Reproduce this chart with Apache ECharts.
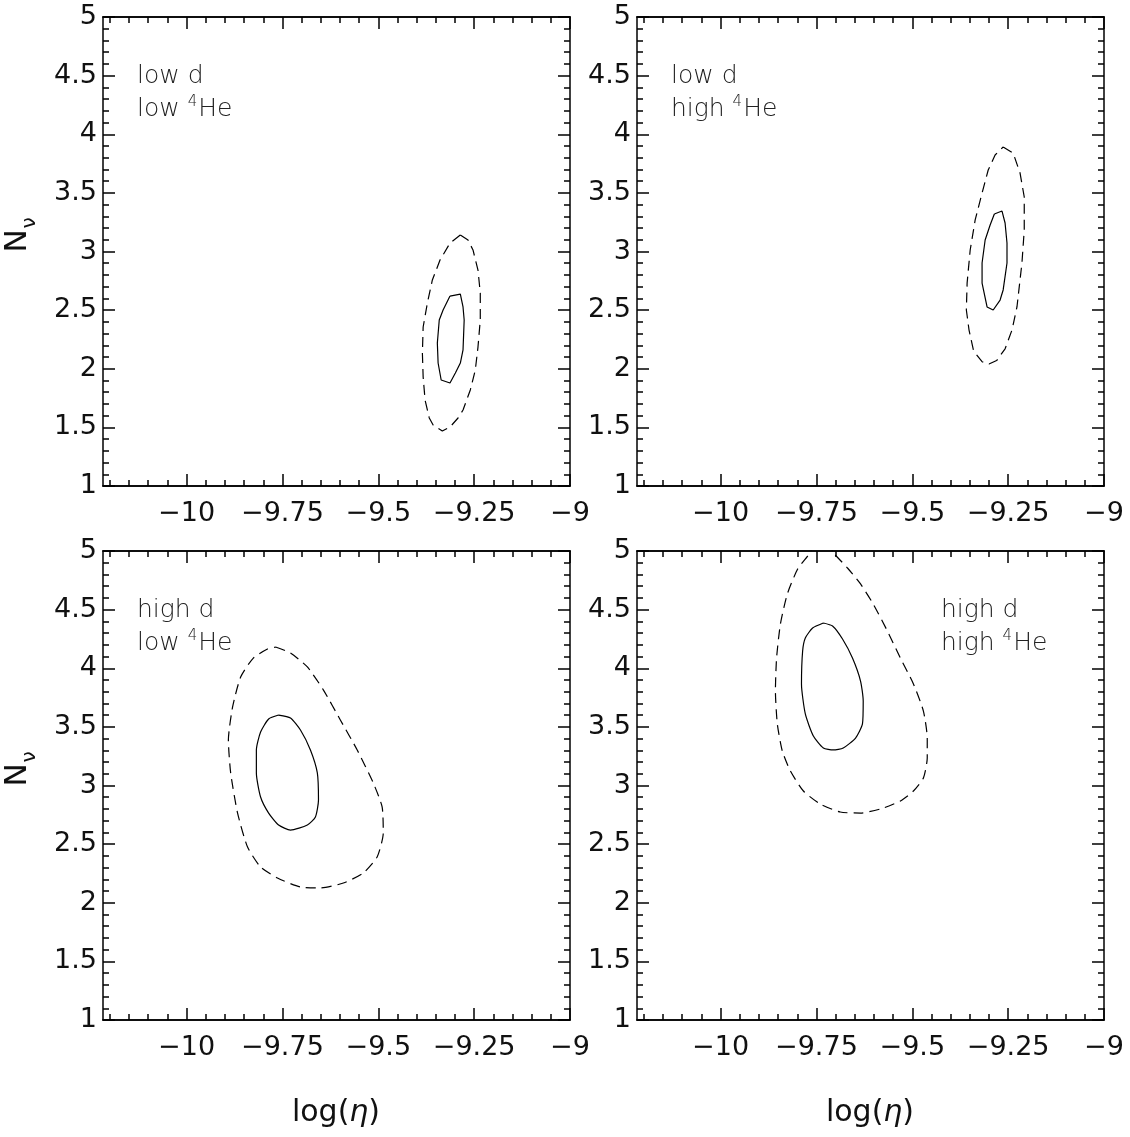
<!DOCTYPE html>
<html><head><meta charset="utf-8">
<script src="https://cdn.jsdelivr.net/npm/echarts@6/dist/echarts.min.js"></script>
<style>html,body{margin:0;padding:0;background:#fff}#c{width:1130px;height:1137px}</style>
</head><body><div id="c"></div>
<script>
// ---- data ----
const X_MIN = -10.218, X_MAX = -9;
const Y_MIN = 1, Y_MAX = 5;
const xTickValues = [-10, -9.75, -9.5, -9.25, -9];
const yTickInterval = 0.5;

const panelLine1 = ['low d', 'low d', 'high d', 'high d'];
const panelLine2 = ['low ', 'high ', 'low ', 'high '];

// top-left: low d, low 4He
const tlOuter = [[-9.286,3.141],[-9.266,3.098],[-9.253,3.013],[-9.240,2.842],[-9.234,2.646],[-9.234,2.416],[-9.240,2.185],[-9.247,1.989],[-9.260,1.819],[-9.279,1.648],[-9.292,1.580],[-9.313,1.503],[-9.333,1.469],[-9.357,1.520],[-9.367,1.580],[-9.378,1.733],[-9.383,1.930],[-9.385,2.134],[-9.383,2.356],[-9.372,2.561],[-9.359,2.757],[-9.339,2.927],[-9.313,3.072],[-9.286,3.141]];
const tlInner = [[-9.313,2.620],[-9.286,2.637],[-9.279,2.527],[-9.276,2.416],[-9.279,2.160],[-9.286,2.049],[-9.299,1.964],[-9.313,1.878],[-9.336,1.904],[-9.344,2.049],[-9.346,2.220],[-9.341,2.416],[-9.331,2.501],[-9.313,2.620]];
// top-right: low d, high 4He
const trOuter = [[-9.263,3.891],[-9.237,3.840],[-9.219,3.670],[-9.208,3.465],[-9.208,3.183],[-9.214,2.902],[-9.227,2.527],[-9.240,2.330],[-9.258,2.170],[-9.280,2.070],[-9.300,2.040],[-9.318,2.060],[-9.340,2.150],[-9.352,2.330],[-9.359,2.501],[-9.357,2.731],[-9.349,3.013],[-9.336,3.269],[-9.318,3.499],[-9.302,3.695],[-9.284,3.823],[-9.263,3.891]];
const trInner = [[-9.286,3.320],[-9.266,3.345],[-9.258,3.243],[-9.253,3.072],[-9.253,2.902],[-9.263,2.672],[-9.271,2.586],[-9.289,2.501],[-9.305,2.527],[-9.318,2.731],[-9.318,2.902],[-9.310,3.098],[-9.297,3.226],[-9.286,3.320]];
// bottom-left: high d, low 4He
const blOuter = [[-9.768,4.181],[-9.729,4.130],[-9.685,4.011],[-9.643,3.814],[-9.599,3.559],[-9.555,3.303],[-9.513,3.021],[-9.490,2.817],[-9.487,2.595],[-9.503,2.390],[-9.539,2.254],[-9.591,2.168],[-9.651,2.126],[-9.703,2.134],[-9.763,2.211],[-9.807,2.305],[-9.841,2.475],[-9.867,2.765],[-9.885,3.107],[-9.891,3.388],[-9.880,3.670],[-9.859,3.925],[-9.826,4.087],[-9.789,4.164],[-9.768,4.181]];
const blInner = [[-9.760,3.601],[-9.729,3.576],[-9.703,3.473],[-9.677,3.303],[-9.659,3.107],[-9.656,2.876],[-9.664,2.731],[-9.685,2.663],[-9.729,2.620],[-9.760,2.663],[-9.786,2.765],[-9.807,2.902],[-9.818,3.107],[-9.818,3.303],[-9.807,3.456],[-9.786,3.567],[-9.760,3.601]];
// bottom-right: high d, high 4He
const brOuter = [[-9.701,4.966],[-9.669,4.855],[-9.635,4.719],[-9.602,4.548],[-9.565,4.318],[-9.531,4.087],[-9.497,3.866],[-9.471,3.635],[-9.461,3.405],[-9.461,3.235],[-9.471,3.064],[-9.497,2.953],[-9.531,2.868],[-9.583,2.800],[-9.635,2.765],[-9.688,2.774],[-9.740,2.842],[-9.784,2.953],[-9.818,3.124],[-9.839,3.294],[-9.852,3.525],[-9.857,3.806],[-9.854,4.087],[-9.844,4.377],[-9.826,4.633],[-9.799,4.846],[-9.773,4.957],[-9.755,5.04],[-9.720,5.04],[-9.701,4.966]];
const brInner = [[-9.732,4.386],[-9.708,4.360],[-9.682,4.249],[-9.656,4.087],[-9.635,3.891],[-9.628,3.721],[-9.630,3.525],[-9.648,3.405],[-9.680,3.320],[-9.706,3.303],[-9.732,3.320],[-9.758,3.422],[-9.779,3.610],[-9.789,3.866],[-9.786,4.147],[-9.779,4.258],[-9.760,4.343],[-9.732,4.386]];

const outers = [tlOuter, trOuter, blOuter, brOuter];
const inners = [tlInner, trInner, blInner, brInner];

// ---- layout ----
const FONT = "'DejaVu Sans', sans-serif";
const FW = 'normal';
const FWL = 200;
const gridPos = [[103,17],[637,17],[103,551],[637,551]];
const GW = 467, GH = 469;
const xMinor = [];
for (let i = 0; i <= 24; i++) {
  const v = Math.round((-10.2 + i*0.05)*1000)/1000;
  if (!xTickValues.some(t => Math.abs(t - v) < 1e-6)) xMinor.push(v);
}
const fmt = v => (v < 0 ? '\u2212' : '') + String(Math.abs(Math.round(v*100)/100));
const lineS = {color:'#000', width:1.5};

const grid = gridPos.map(([l,t]) => ({left:l, top:t, width:GW, height:GH, outerBoundsMode:'none'}));
const xAxis = [], yAxis = [], series = [];
gridPos.forEach((p, g) => {
  const base = {type:'value', gridIndex:g, min:X_MIN, max:X_MAX, splitLine:{show:false},
    axisLine:{show:true, onZero:false, lineStyle:lineS}};
  const lab = {show:true, customValues:xTickValues, formatter:fmt, fontSize:27, color:'#111',
    margin:14, fontFamily:FONT, fontWeight:FW};
  xAxis.push({...base, position:'bottom', axisTick:{show:true, inside:true, length:12, customValues:xTickValues, lineStyle:lineS}, axisLabel:lab});
  xAxis.push({...base, position:'bottom', axisTick:{show:true, inside:true, length:6, customValues:xMinor, lineStyle:lineS}, axisLabel:{show:false}});
  xAxis.push({...base, position:'top', axisTick:{show:true, inside:true, length:12, customValues:xTickValues, lineStyle:lineS}, axisLabel:{show:false}});
  xAxis.push({...base, position:'top', axisTick:{show:true, inside:true, length:6, customValues:xMinor, lineStyle:lineS}, axisLabel:{show:false}});
  const ybase = {type:'value', gridIndex:g, min:Y_MIN, max:Y_MAX, interval:yTickInterval,
    splitLine:{show:false}, minorSplitLine:{show:false},
    axisLine:{show:true, onZero:false, lineStyle:lineS},
    axisTick:{show:true, inside:true, length:12, lineStyle:lineS},
    minorTick:{show:true, splitNumber:5, length:6, lineStyle:lineS}};
  yAxis.push({...ybase, position:'left', axisLabel:{show:true, fontSize:27, color:'#111', margin:6, fontFamily:FONT, fontWeight:FW}});
  yAxis.push({...ybase, position:'right', axisLabel:{show:false}});
  const sm = g >= 2 ? 0.2 : false;
  series.push({type:'line', xAxisIndex:4*g, yAxisIndex:2*g, data:outers[g], showSymbol:false, symbol:'none', smooth:sm, clip:true,
    lineStyle:{color:'#000', width:1.2, type:[10,6]}, silent:true, animation:false});
  series.push({type:'line', xAxisIndex:4*g, yAxisIndex:2*g, data:inners[g], showSymbol:false, symbol:'none', smooth:sm, clip:true,
    lineStyle:{color:'#000', width:1.2, type:'solid'}, silent:true, animation:false});
});

// ---- texts ----
const graphic = [];
const annPos = [[137,60],[671,60],[137,594],[941,594]];
annPos.forEach(([x,y], g) => {
  graphic.push({type:'text', x:x, y:y, silent:true, style:{
    text:'{a|' + panelLine1[g] + '}\n{a|' + panelLine2[g] + '}{s|4}{a|He}',
    fill:'#333', rich:{
      a:{fontSize:25, lineHeight:33, fontFamily:FONT, fontWeight:FWL, fill:'#222'},
      s:{fontSize:15, lineHeight:33, fontFamily:FONT, fontWeight:FWL, fill:'#222', padding:[0,1,15,0]}
    }}});
});
[0, 534].forEach(dy => {
  graphic.push({type:'text', x:18, y:241+dy, rotation:Math.PI/2, silent:true,
    style:{text:'N', fontSize:31, fontFamily:FONT, fontWeight:FW, fill:'#111', align:'center', verticalAlign:'middle'}});
  graphic.push({type:'text', x:30, y:223+dy, rotation:Math.PI/2, silent:true,
    style:{text:'\u03bd', fontSize:20, fontFamily:FONT, fontWeight:FW, fill:'#111', align:'center', verticalAlign:'middle'}});
});
[336, 870].forEach(cx => {
  graphic.push({type:'text', x:cx, y:1113, silent:true, style:{
    text:'{a|log(}{b|\u03b7}{a|)}', align:'center', verticalAlign:'middle',
    rich:{a:{fontSize:30, fontFamily:FONT, fontWeight:FW, fill:'#111'},
          b:{fontSize:30, fontFamily:FONT, fontWeight:FW, fontStyle:'italic', fill:'#111'}}}});
});

const chart = echarts.init(document.getElementById('c'), null, {renderer:'canvas'});
chart.setOption({animation:false, backgroundColor:'#fff', grid, xAxis, yAxis, series, graphic});
</script></body></html>
